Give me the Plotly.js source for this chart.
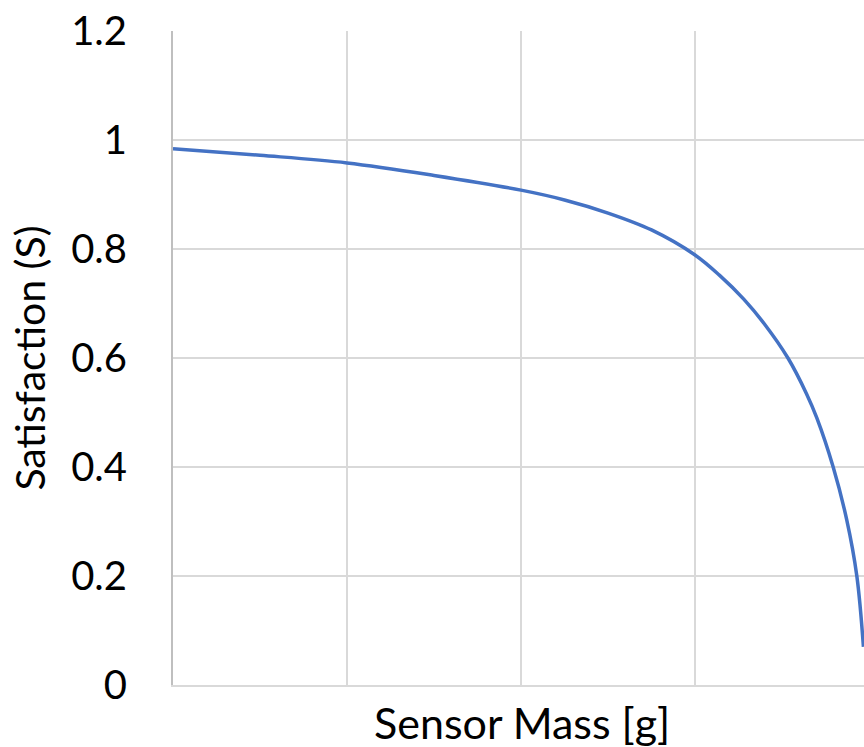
<!DOCTYPE html>
<html>
<head>
<meta charset="utf-8">
<script src="https://cdn.plot.ly/plotly-3.0.1.min.js"></script>
<style>html,body{margin:0;padding:0;background:#fff;}#chart{width:864px;height:747px;}</style>
</head>
<body>
<div id="chart"></div>
<script>
// Sensor mass [g] (x positions measured relative to the vertical gridlines, 50 units per gridline)
var sensorMass = [0, 25, 50, 75, 100, 112.5, 125, 137.5, 150, 157, 164, 170, 176.7, 182, 185, 189.7, 193.6, 196.5, 198.4];
// Satisfaction S
var satisfaction = [0.984, 0.972, 0.958, 0.935, 0.908, 0.890, 0.866, 0.835, 0.789, 0.752, 0.708, 0.662, 0.600, 0.535, 0.490, 0.400, 0.303, 0.200, 0.070];
var yTickVals = [0, 0.2, 0.4, 0.6, 0.8, 1, 1.2];
var yTickText = ["0", "0.2", "0.4", "0.6", "0.8", "1", "1.2"];
var xTitle = 'Sensor Mass [g]';
var yTitle = 'Satisfaction (S)';

var trace = {
  x: sensorMass,
  y: satisfaction,
  type: 'scatter',
  mode: 'lines',
  line: {color: '#4472C4', width: 3.5, shape: 'spline', smoothing: 1},
  hoverinfo: 'skip'
};

var layout = {
  width: 864,
  height: 747,
  margin: {l: 173, r: 0, t: 31, b: 62},
  paper_bgcolor: '#ffffff',
  plot_bgcolor: '#ffffff',
  showlegend: false,
  font: {family: 'Lato, "Open Sans", sans-serif', color: '#000000'},
  xaxis: {
    range: [0, 198.56],
    dtick: 50,
    tick0: 0,
    showticklabels: false,
    ticks: '',
    showgrid: true,
    gridcolor: '#d9d9d9',
    gridwidth: 2,
    zeroline: false,
    showline: true,
    linecolor: '#d9d9d9',
    linewidth: 2
  },
  yaxis: {
    range: [0, 1.2],
    tickvals: yTickVals,
    ticktext: yTickText,
    tickfont: {size: 40, family: 'Lato, sans-serif', color: '#000'},
    ticks: 'outside',
    ticklen: 36,
    tickcolor: 'rgba(0,0,0,0)',
    showgrid: true,
    gridcolor: '#d9d9d9',
    gridwidth: 2,
    zeroline: false,
    showline: true,
    linecolor: '#bfbfbf',
    linewidth: 2
  },
  annotations: [
    {
      text: xTitle, xref: 'paper', yref: 'paper',
      x: 0.505, y: 0, xanchor: 'center', yanchor: 'top', yshift: -10,
      showarrow: false, font: {size: 43, family: 'Lato, sans-serif', color: '#000'}
    },
    {
      text: yTitle, xref: 'paper', yref: 'paper',
      x: -0.209, y: 0.5, xanchor: 'center', yanchor: 'middle', textangle: -90,
      showarrow: false, font: {size: 41, family: 'Lato, sans-serif', color: '#000'}
    }
  ]
};

Plotly.newPlot('chart', [trace], layout, {staticPlot: true, displayModeBar: false});
</script>
</body>
</html>
